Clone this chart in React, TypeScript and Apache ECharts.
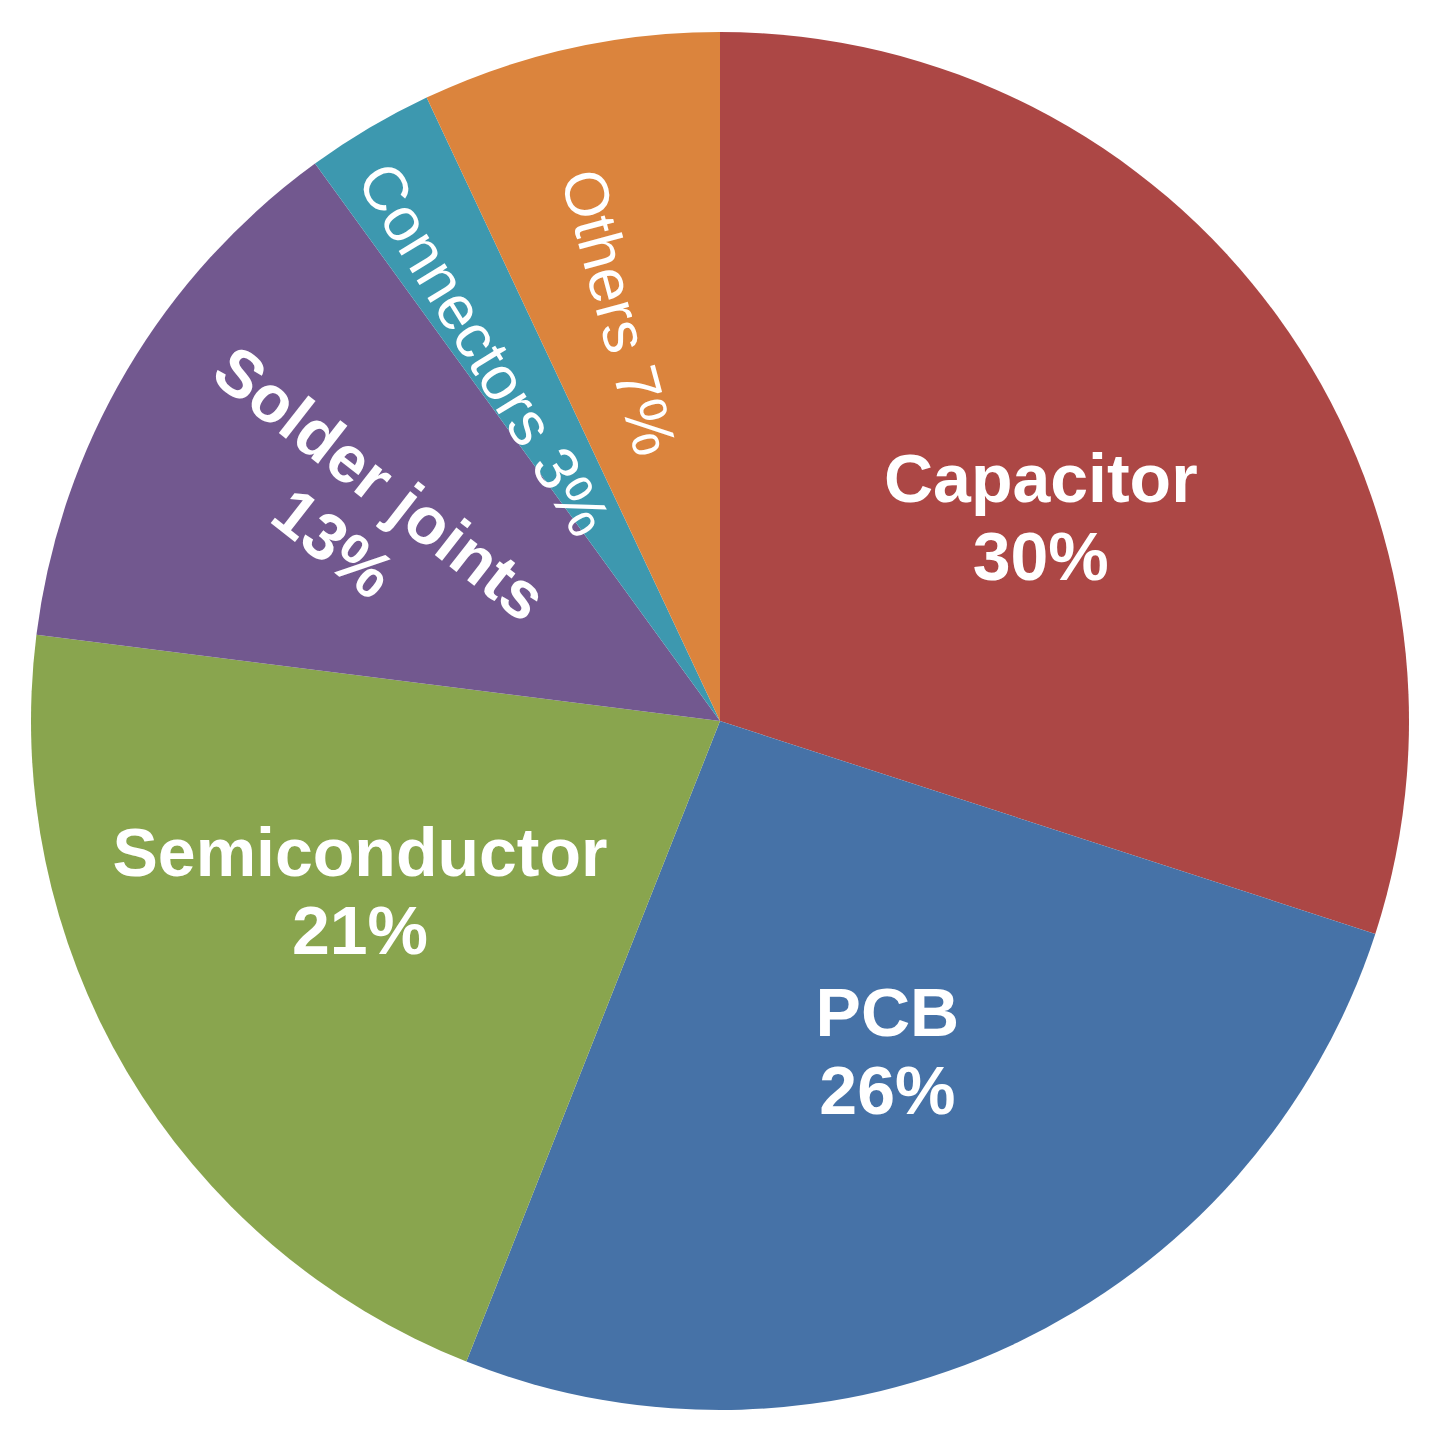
import React, { useEffect, useRef } from "react";
import * as echarts from "echarts";

const categories = ["Capacitor", "PCB", "Semiconductor", "Solder joints", "Connectors", "Others"];
const values = [30, 26, 21, 13, 3, 7];
const colors = ["#AC4745", "#4672A7", "#89A54E", "#72588F", "#3D98AF", "#DB843D"];

// label styling / placement (not data)
const labelTwoLines = [true, true, true, true, false, false];
const labelBold = [true, true, true, true, false, false];
const labelSize = [68, 68, 68, 66, 62, 62];
const labelRotate = [0, 0, 0, -38, -58.5, -75];
const labelDist = [0.552, 0.537, 0.578, 0.607, 0.639, 0.611];
const labelAngleShift = [3.5, -1.7, 5.3, -0.8, -1.8, -1.3];

const W = 1437;
const H = 1448;
const CX = 720;
const CY = 721;
const R = 689;

export default function App() {
  const ref = useRef<HTMLDivElement>(null);
  useEffect(() => {
    document.body.style.margin = "0";
    if (!ref.current) return;
    const chart = echarts.init(ref.current, null, { renderer: "svg" });
    const total = values.reduce((a, b) => a + b, 0);
    const data = categories.map((name, i) => ({
      name,
      value: values[i],
      itemStyle: { color: colors[i] },
      label: {
        formatter: labelTwoLines[i] ? "{b}\n{c}%" : "{b} {c}%",
        fontWeight: labelBold[i] ? "bold" : "normal",
        fontSize: labelSize[i],
        lineHeight: Math.round(labelSize[i] * 1.15),
        rotate: labelRotate[i],
      },
    }));
    chart.setOption({
      animation: false,
      backgroundColor: "#ffffff",
      series: [
        {
          type: "pie",
          center: [CX, CY],
          radius: [0, R],
          startAngle: 90,
          clockwise: true,
          avoidLabelOverlap: false,
          silent: true,
          emphasis: { disabled: true },
          itemStyle: { borderWidth: 0 },
          label: {
            show: true,
            position: "inside",
            color: "#ffffff",
            fontFamily: "Liberation Sans, Arial, sans-serif",
            align: "center",
            verticalAlign: "middle",
          },
          labelLine: { show: false },
          labelLayout: (p: any) => {
            const i = p.dataIndex;
            let before = 0;
            for (let j = 0; j < i; j++) before += values[j];
            const mid = ((before + values[i] / 2) / total) * 360 + labelAngleShift[i];
            const rad = (mid * Math.PI) / 180;
            const d = R * labelDist[i];
            return {
              x: CX + d * Math.sin(rad),
              y: CY - d * Math.cos(rad),
              rotate: labelRotate[i],
              align: "center",
              verticalAlign: "middle",
            };
          },
          data,
        },
      ],
    });
    return () => chart.dispose();
  }, []);
  return <div ref={ref} style={{ width: W, height: H }} />;
}
